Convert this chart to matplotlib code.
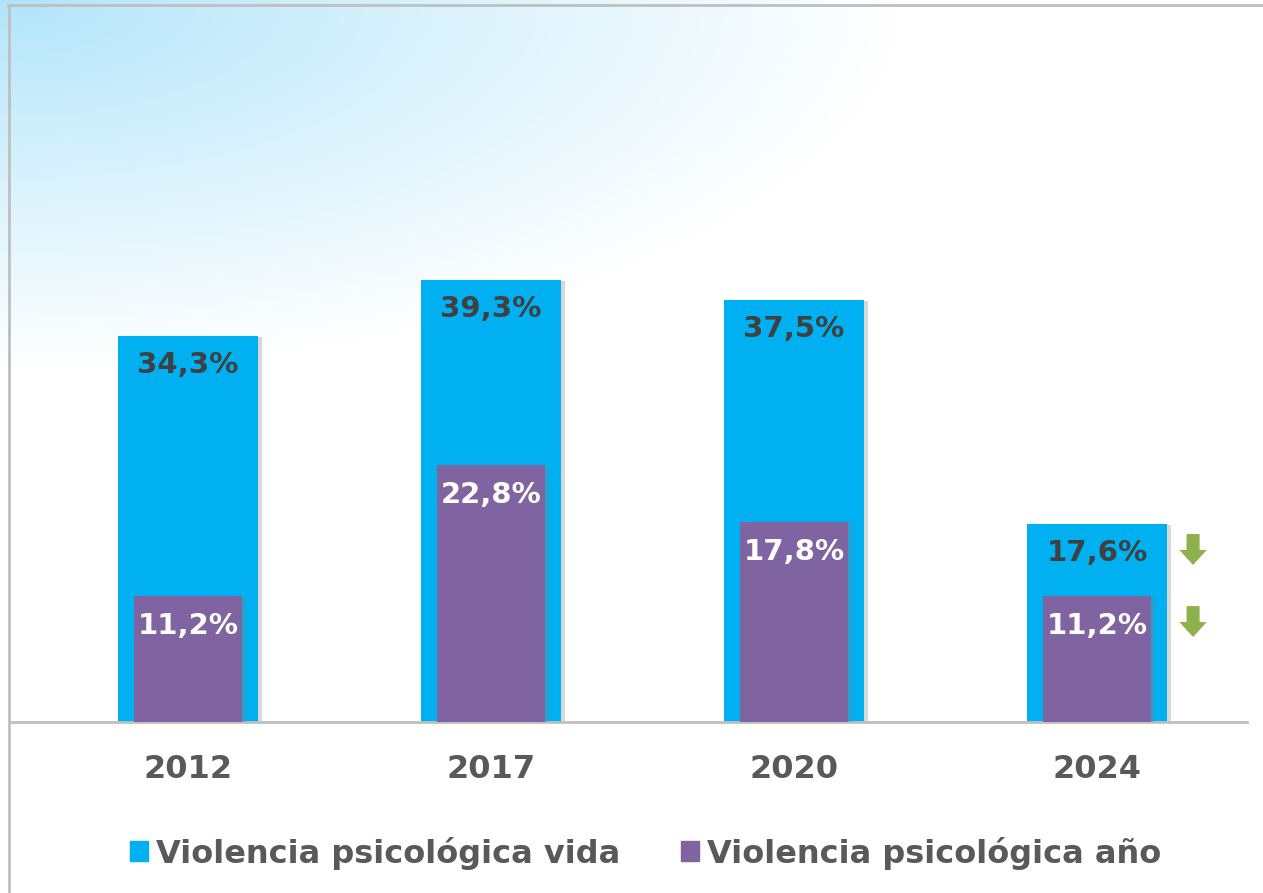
import numpy as np
import matplotlib
matplotlib.use('Agg')
from matplotlib import pyplot as plt
from matplotlib.patches import Polygon, Patch
from matplotlib.lines import Line2D
import matplotlib.patheffects as pe

plt.rcParams['font.family'] = ['DejaVu Sans']

# datos
years = ['2012', '2017', '2020', '2024']
vida = [34.3, 39.3, 37.5, 17.6]
anio = [11.2, 22.8, 17.8, 11.2]
series_names = ['Violencia psicológica vida', 'Violencia psicológica año']
baja = [False, False, False, True]   # flechas de descenso

c_vida = '#00B0F0'
c_anio = '#8064A2'
c_flecha = '#8DB14B'

W, H = 1263, 893
fig = plt.figure(figsize=(W / 100, H / 100), dpi=100)

# fondo con degradado azul claro en la esquina superior izquierda
bg = fig.add_axes([0, 0, 1, 1], zorder=0)
xx, yy = np.meshgrid(np.arange(W), np.arange(H))
d = np.sqrt((xx / 900.0) ** 2 + (yy / 370.0) ** 2)
t = np.clip(d, 0, 1) ** 0.9
c0 = np.array([176, 228, 250]) / 255.0
img = c0[None, None, :] * (1 - t[..., None]) + 1.0 * t[..., None]
bg.imshow(img, extent=[0, W, H, 0], aspect='auto', interpolation='bilinear')
bg.set_xlim(0, W)
bg.set_ylim(H, 0)
bg.axis('off')
bg.add_line(Line2D([8, W], [5, 5], color='#BFBFBF', lw=2))
bg.add_line(Line2D([9, 9], [5, H], color='#BFBFBF', lw=2))

# grafico principal
ax = fig.add_axes([10 / W, 1 - 722 / H, 1237 / W, 717 / H], zorder=1)
ax.patch.set_alpha(0)
x = np.arange(len(years))
sombra = [pe.SimplePatchShadow(offset=(3, -1), alpha=0.3, shadow_rgbFace='#7F7F7F'), pe.Normal()]
b1 = ax.bar(x, vida, width=0.462, color=c_vida, zorder=2)
b2 = ax.bar(x, anio, width=0.356, color=c_anio, zorder=3)
for b in list(b1) + list(b2):
    b.set_path_effects(sombra)

for i in range(len(years)):
    ax.annotate(f'{vida[i]:.1f}%'.replace('.', ','), (x[i], vida[i]), xytext=(0, -29),
                textcoords='offset pixels', ha='center', va='center',
                fontsize=21, fontweight='bold', color='#404040', zorder=5)
    ax.annotate(f'{anio[i]:.1f}%'.replace('.', ','), (x[i], anio[i]), xytext=(0, -30),
                textcoords='offset pixels', ha='center', va='center',
                fontsize=21, fontweight='bold', color='white', zorder=5)

# flechas verdes
for i in range(len(years)):
    if not baja[i]:
        continue
    for v in (vida[i], anio[i]):
        top = v - 0.9
        cx = x[i] + 0.317
        sw, hw = 0.0215, 0.045
        mid = top - 1.42
        tip = mid - 1.33
        pts = [(cx - sw, top), (cx + sw, top), (cx + sw, mid), (cx + hw, mid),
               (cx, tip), (cx - hw, mid), (cx - sw, mid)]
        ax.add_patch(Polygon(pts, closed=True, color=c_flecha, zorder=4, lw=0))

ax.set_xlim(-0.5875, 3.495)
ax.set_ylim(0, 63.7)
ax.set_yticks([])
ax.set_xticks(x)
ax.set_xticklabels(years, fontsize=23, fontweight='bold', color='#595959')
ax.tick_params(axis='x', length=0, pad=23)
for s in ['top', 'right', 'left']:
    ax.spines[s].set_visible(False)
ax.spines['bottom'].set_color('#BFBFBF')
ax.spines['bottom'].set_linewidth(2)

handles = [Patch(color=c_vida), Patch(color=c_anio)]
leg = fig.legend(handles, series_names, loc='center', ncol=2, frameon=False,
                 bbox_to_anchor=(645.5 / W, 1 - 853 / H),
                 prop={'size': 23, 'weight': 'bold'},
                 handlelength=0.56, handleheight=0.56, handletextpad=0.25,
                 columnspacing=1.9)
for tx in leg.get_texts():
    tx.set_color('#595959')

fig.savefig('out.png', dpi=100)
